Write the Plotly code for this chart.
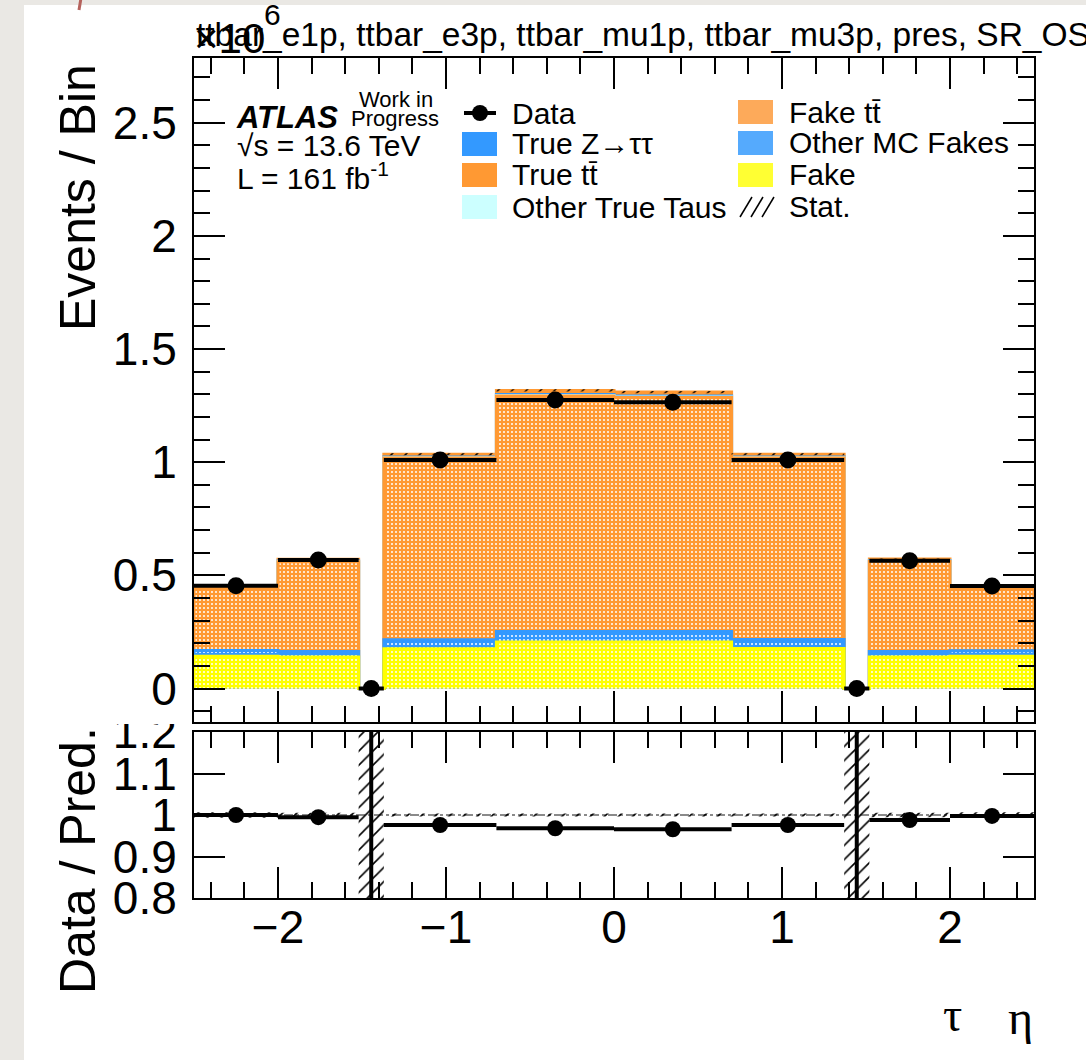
import numpy as np
import plotly.graph_objects as go

# ---------------- data (values in units of 10^6 events) ----------------
bin_edges = [-2.5, -2.0, -1.52, -1.37, -0.7, 0.0, 0.7, 1.37, 1.52, 2.0, 2.5]
data_events = [0.454, 0.568, 0.0, 1.010, 1.275, 1.265, 1.010, 0.0, 0.565, 0.453]
fake = [0.143, 0.139, 0.0, 0.176, 0.206, 0.206, 0.177, 0.0, 0.139, 0.143]
other_mc_fakes = [0.025, 0.025, 0.0, 0.039, 0.046, 0.046, 0.039, 0.0, 0.025, 0.024]
fake_ttbar = [0.277, 0.396, 0.0, 0.804, 1.041, 1.034, 0.803, 0.0, 0.397, 0.278]
other_true_taus = [0.001, 0.001, 0.0, 0.001, 0.002, 0.002, 0.001, 0.0, 0.001, 0.001]
true_ztautau = [0.002, 0.002, 0.0, 0.003, 0.004, 0.004, 0.003, 0.0, 0.002, 0.002]
true_ttbar = [0.006, 0.008, 0.0, 0.012, 0.018, 0.018, 0.012, 0.0, 0.008, 0.006]
stat_unc = [0.003, 0.003, 0.0, 0.004, 0.005, 0.005, 0.004, 0.0, 0.003, 0.003]

x_tick_vals = [-2, -1, 0, 1, 2]
x_tick_text = ["\u22122", "\u22121", "0", "1", "2"]
y_tick_vals = [0, 0.5, 1, 1.5, 2, 2.5]
y_tick_text = ["0", "0.5", "1", "1.5", "2", "2.5"]
ratio_tick_vals = [0.8, 0.9, 1.0, 1.1, 1.2]
ratio_tick_text = ["0.8", "0.9", "1", "1.1", "1.2"]

title_text = "ttbar_e1p, ttbar_e3p, ttbar_mu1p, ttbar_mu3p, pres, SR_OS"

# ---------------- style ----------------
FONT = "Liberation Sans, Arial, Helvetica, sans-serif"
SERIF = "Liberation Serif, DejaVu Serif, serif"
YELLOW = "#ffff00"
BLUE = "#3399ff"
ORANGE = "#ff9933"
CYAN = "#ccffff"

W, H = 1086, 1060
L, R, T, B = 194, 1034, 58, 898
MAIN_BOTTOM_PX, RATIO_TOP_PX = 722, 732
x_range = [-2.5, 2.5]
main_range = [-0.148, 2.786]
ratio_range = [0.8, 1.2]


def px_x(px):
    return (px - L) / (R - L)


def px_y(py):
    return (B - py) / (B - T)


edges = np.array(bin_edges)
centers = 0.5 * (edges[:-1] + edges[1:])
half_w = 0.5 * (edges[1:] - edges[:-1])

components = [  # bottom -> top
    ("Fake", fake, YELLOW, True),
    ("Other MC Fakes", other_mc_fakes, BLUE, True),
    ("Fake tt\u0304", fake_ttbar, ORANGE, True),
    ("Other True Taus", other_true_taus, CYAN, False),
    ("True Z\u2192\u03c4\u03c4", true_ztautau, BLUE, False),
    ("True tt\u0304", true_ttbar, ORANGE, False),
]
cum = np.cumsum(np.array([c[1] for c in components]), axis=0)
total = cum[-1]


def step_closed(vals):
    xs = [edges[0], edges[0]] + list(edges[1:-1]) + [edges[-1], edges[-1]]
    ys = [0.0] + list(vals) + [vals[-1], 0.0]
    return xs, ys


def step_open(vals):
    xs = list(edges)
    ys = list(vals) + [vals[-1]]
    return xs, ys


fig = go.Figure()

# stacked histogram (drawn ROOT-style: largest cumulative first)
for k in range(len(components) - 1, -1, -1):
    name, vals, color, patterned = components[k]
    xs, ys = step_closed(cum[k])
    kw = dict(x=xs, y=ys, mode="lines", line=dict(color=color, width=3, shape="hv"),
              fill="tozeroy", fillcolor=color, name=name, showlegend=False,
              hoverinfo="skip", xaxis="x", yaxis="y")
    if patterned:
        kw["fillpattern"] = dict(shape=".", fgcolor="white", bgcolor=color,
                                 size=4, solidity=0.2, fillmode="replace")
    fig.add_trace(go.Scatter(**kw))

# stat band main
lo = total - np.array(stat_unc)
hi = total + np.array(stat_unc)
xs, ys = step_open(lo)
fig.add_trace(go.Scatter(x=xs, y=ys, mode="lines", line=dict(width=0, shape="hv"),
                         showlegend=False, hoverinfo="skip", xaxis="x", yaxis="y"))
xs, ys = step_open(hi)
fig.add_trace(go.Scatter(x=xs, y=ys, mode="lines", line=dict(width=0, shape="hv"),
                         fill="tonexty", fillcolor="rgba(0,0,0,0)",
                         fillpattern=dict(shape="/", fgcolor="black", bgcolor="rgba(0,0,0,0)",
                                          size=10, solidity=0.15, fillmode="replace"),
                         showlegend=False, hoverinfo="skip", xaxis="x", yaxis="y"))

# data
data_arr = np.array(data_events)
fig.add_trace(go.Scatter(
    x=centers, y=data_arr, mode="markers", name="Data",
    marker=dict(color="black", size=17),
    error_x=dict(type="data", array=half_w, symmetric=True, color="black", thickness=4, width=0),
    error_y=dict(type="data", array=np.sqrt(data_arr * 1e6) / 1e6, color="black", thickness=4, width=0),
    showlegend=False, xaxis="x", yaxis="y"))

# ---------------- ratio panel ----------------
safe_total = np.where(total > 0, total, np.nan)
ratio = data_arr / safe_total
rel = np.array(stat_unc) / safe_total
r_lo = np.where(np.isnan(rel), ratio_range[0], 1 - rel)
r_hi = np.where(np.isnan(rel), ratio_range[1], 1 + rel)
xs, ys = step_open(r_lo)
fig.add_trace(go.Scatter(x=xs, y=ys, mode="lines", line=dict(width=0, shape="hv"),
                         showlegend=False, hoverinfo="skip", xaxis="x2", yaxis="y2"))
xs, ys = step_open(r_hi)
fig.add_trace(go.Scatter(x=xs, y=ys, mode="lines", line=dict(width=0, shape="hv"),
                         fill="tonexty", fillcolor="rgba(0,0,0,0)",
                         fillpattern=dict(shape="/", fgcolor="black", bgcolor="rgba(0,0,0,0)",
                                          size=10, solidity=0.16, fillmode="replace"),
                         showlegend=False, hoverinfo="skip", xaxis="x2", yaxis="y2"))

fig.add_trace(go.Scatter(
    x=centers, y=ratio, mode="markers",
    marker=dict(color="black", size=16),
    error_x=dict(type="data", array=half_w, symmetric=True, color="black", thickness=4, width=0),
    showlegend=False, xaxis="x2", yaxis="y2"))

# undefined ratio (empty prediction) -> error bar spanning full range
crack = np.isnan(safe_total)
mid = 0.5 * (ratio_range[0] + ratio_range[1])
halfr = 0.5 * (ratio_range[1] - ratio_range[0])
fig.add_trace(go.Scatter(
    x=centers[crack], y=[mid] * int(crack.sum()), mode="markers",
    marker=dict(color="black", size=1),
    error_y=dict(type="data", array=[halfr] * int(crack.sum()), color="black", thickness=4, width=0),
    showlegend=False, xaxis="x2", yaxis="y2"))


# ---------------- axes ----------------
def frame_axis(**kw):
    base = dict(showline=True, linecolor="black", linewidth=2, mirror="ticks",
                ticks="inside", ticklen=31, tickwidth=2, tickcolor="black",
                showgrid=False, zeroline=False,
                tickfont=dict(size=46, family=FONT, color="black"))
    base.update(kw)
    return base


minor_x = dict(ticks="inside", ticklen=16, tickwidth=2, tickcolor="black", dtick=0.2, tick0=0, showgrid=False)
minor_y = dict(ticks="inside", ticklen=16, tickwidth=2, tickcolor="black", dtick=0.1, tick0=0, showgrid=False)

fig.update_layout(
    width=W, height=H,
    margin=dict(l=L, r=W - R, t=T, b=H - B, pad=0),
    paper_bgcolor="#eae8e4", plot_bgcolor="white",
    showlegend=False,
    font=dict(family=FONT, color="black"),
    xaxis=frame_axis(domain=[0, 1], range=x_range, anchor="y", tickvals=x_tick_vals,
                     showticklabels=False, minor=minor_x),
    yaxis=frame_axis(domain=[px_y(MAIN_BOTTOM_PX), 1], range=main_range, anchor="x",
                     tickvals=y_tick_vals, ticktext=y_tick_text, minor=minor_y,
                     ticklabelstandoff=6),
    xaxis2=frame_axis(domain=[0, 1], range=x_range, anchor="y2", tickvals=x_tick_vals,
                      ticktext=x_tick_text, minor=minor_x, ticklabelstandoff=-12),
    yaxis2=frame_axis(domain=[0, px_y(RATIO_TOP_PX)], range=ratio_range, anchor="x2",
                      tickvals=ratio_tick_vals, ticktext=ratio_tick_text, ticklabelstandoff=6),
)

# ---------------- shapes ----------------
shapes = []
# white page on textured background
shapes.append(dict(type="rect", xref="paper", yref="paper", layer="below",
                   x0=px_x(24), x1=px_x(W + 10), y0=px_y(H + 10), y1=px_y(5),
                   fillcolor="white", line=dict(width=0)))
shapes.append(dict(type="line", xref="paper", yref="paper", layer="above",
                   x0=px_x(81), x1=px_x(79), y0=px_y(-2), y1=px_y(10),
                   line=dict(color="#b5625c", width=3)))
# reference line at ratio 1
shapes.append(dict(type="line", xref="x2", yref="y2", layer="below",
                   x0=x_range[0], x1=x_range[1], y0=1, y1=1,
                   line=dict(color="#8a8a8a", width=2, dash="dashdot")))
# main pad covers top of the "1.2" label
shapes.append(dict(type="rect", xref="paper", yref="paper", layer="above",
                   x0=px_x(60), x1=px_x(191), y0=px_y(724), y1=px_y(707),
                   fillcolor="white", line=dict(width=0)))

# legend swatches
col1_sw, col1_tx = (462, 497), 510
col2_sw, col2_tx = (738, 773), 787
rows1 = [113, 144, 175, 207]
rows2 = [112, 143, 175, 206]


def swatch(x0x1, yc, color):
    return dict(type="rect", xref="paper", yref="paper", layer="above",
                x0=px_x(x0x1[0]), x1=px_x(x0x1[1]), y0=px_y(yc + 12), y1=px_y(yc - 12),
                fillcolor=color, line=dict(width=0))


shapes.append(dict(type="line", xref="paper", yref="paper", layer="above",
                   x0=px_x(464), x1=px_x(496), y0=px_y(rows1[0]), y1=px_y(rows1[0]),
                   line=dict(color="black", width=4)))
shapes.append(dict(type="circle", xref="paper", yref="paper", layer="above",
                   x0=px_x(472), x1=px_x(488), y0=px_y(rows1[0] + 8), y1=px_y(rows1[0] - 8),
                   fillcolor="black", line=dict(width=0)))
shapes.append(swatch(col1_sw, rows1[1], BLUE))
shapes.append(swatch(col1_sw, rows1[2], ORANGE))
shapes.append(swatch(col1_sw, rows1[3], CYAN))
shapes.append(swatch(col2_sw, rows2[0], "#fdaa5a"))
shapes.append(swatch(col2_sw, rows2[1], "#55aafd"))
shapes.append(swatch(col2_sw, rows2[2], "#ffff33"))
for off in (0, 11, 22):
    shapes.append(dict(type="line", xref="paper", yref="paper", layer="above",
                       x0=px_x(740 + off), x1=px_x(752 + off), y0=px_y(217), y1=px_y(197),
                       line=dict(color="black", width=1.5)))
fig.update_layout(shapes=shapes)

# ---------------- annotations ----------------
anns = []


def ann(text, px, py, size, xanchor="left", yanchor="middle", family=FONT, **kw):
    d = dict(text=text, x=px_x(px), y=px_y(py), xref="paper", yref="paper",
             xanchor=xanchor, yanchor=yanchor, showarrow=False,
             font=dict(size=size, family=family, color="black"))
    d.update(kw)
    anns.append(d)


ann(title_text, 194, 34, 33.5)
ann("\u00d710", 192, 38, 42)
ann("6", 262, 15, 30)
ann("Events / Bin", 78, 197, 50, xanchor="center", textangle=-90)
ann("Data / Pred.", 78, 860, 50, xanchor="center", textangle=-90)
ann("\u03c4", 952, 1014, 48, xanchor="center", family=SERIF)
ann("\u03b7", 1020, 1017, 48, xanchor="center", family=SERIF)
ann("<b><i>ATLAS</i></b>", 234, 118, 31)
ann("Work in", 396, 99, 22, xanchor="center")
ann("Progress", 395, 119, 22, xanchor="center")
ann("\u221as = 13.6 TeV", 235, 146, 30)
ann("L = 161 fb<sup>-1</sup>", 235, 176, 30)

legend_col1 = ["Data", components[4][0], components[5][0], components[3][0]]
legend_col2 = [components[2][0], components[1][0], components[0][0], "Stat."]
for txt, yc in zip(legend_col1, rows1):
    ann(txt, col1_tx, yc, 30)
for txt, yc in zip(legend_col2, rows2):
    ann(txt, col2_tx, yc, 30)

fig.update_layout(annotations=anns)

fig.write_html("out.html", config={"displayModeBar": False},
               post_script="document.body.style.margin='0px';document.body.style.overflow='hidden';")
